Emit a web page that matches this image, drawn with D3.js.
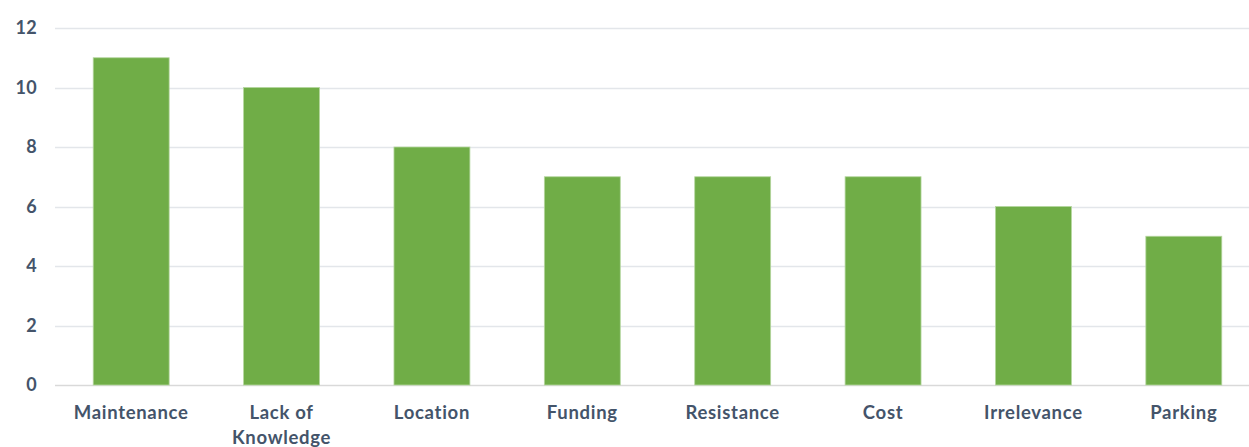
<!DOCTYPE html>
<html>
<head>
<meta charset="utf-8">
<script src="https://cdn.jsdelivr.net/npm/d3@7"></script>
<style>
  body { margin: 0; background: #fff; }
  svg { display: block; }
  .cat { font-family: Lato, "Open Sans", sans-serif; font-weight: bold; fill: #44546a; }
</style>
</head>
<body>
<svg id="chart" width="1249" height="447"></svg>
<script>
const categories = ['Maintenance', 'Lack of Knowledge', 'Location', 'Funding', 'Resistance', 'Cost', 'Irrelevance', 'Parking'];
const values = [11, 10, 8, 7, 7, 7, 6, 5];
const yTicks = [0, 2, 4, 6, 8, 10, 12];

const svg = d3.select('#chart');
const plot = { left: 55, right: 1249, top: 28, bottom: 385 };

const x = d3.scaleBand()
  .domain(categories)
  .range([56, 1259])
  .paddingInner(0.495)
  .paddingOuter(0.2475);

const y = d3.scaleLinear().domain([0, 12]).range([plot.bottom, plot.top]);

// gridlines
svg.append('g')
  .selectAll('line')
  .data(yTicks)
  .join('line')
  .attr('x1', plot.left)
  .attr('x2', plot.right)
  .attr('y1', d => Math.round(y(d)) + 0.5)
  .attr('y2', d => Math.round(y(d)) + 0.5)
  .attr('stroke', d => d === 0 ? '#d9d9d9' : '#e3e6ea')
  .attr('stroke-width', 1.3);

// y labels
svg.append('g')
  .selectAll('text')
  .data(yTicks)
  .join('text')
  .attr('class', 'cat')
  .attr('x', 37)
  .attr('y', d => y(d))
  .attr('dy', '0.36em')
  .attr('text-anchor', 'end')
  .style('font-size', '18px')
  .style('letter-spacing', '0.3px')
  .text(d => d);

// bars
svg.append('g')
  .selectAll('rect')
  .data(values)
  .join('rect')
  .attr('x', (d, i) => x(categories[i]))
  .attr('y', d => y(d))
  .attr('width', x.bandwidth())
  .attr('height', d => y(0) - y(d))
  .attr('fill', '#70ad47')
  .attr('stroke', '#b5d69f')
  .attr('stroke-width', 0.8);

// category labels (wrapped like the original)
const lines = {
  'Lack of Knowledge': ['Lack of', 'Knowledge']
};
const catG = svg.append('g');
categories.forEach(c => {
  const t = catG.append('text')
    .attr('class', 'cat')
    .attr('x', x(c) + x.bandwidth() / 2)
    .attr('y', 419)
    .attr('text-anchor', 'middle')
    .style('font-size', '18.5px')
    .style('letter-spacing', '0.7px');
  (lines[c] || [c]).forEach((l, i) => {
    t.append('tspan')
      .attr('x', x(c) + x.bandwidth() / 2)
      .attr('dy', i === 0 ? 0 : 25)
      .text(l);
  });
});
</script>
</body>
</html>
